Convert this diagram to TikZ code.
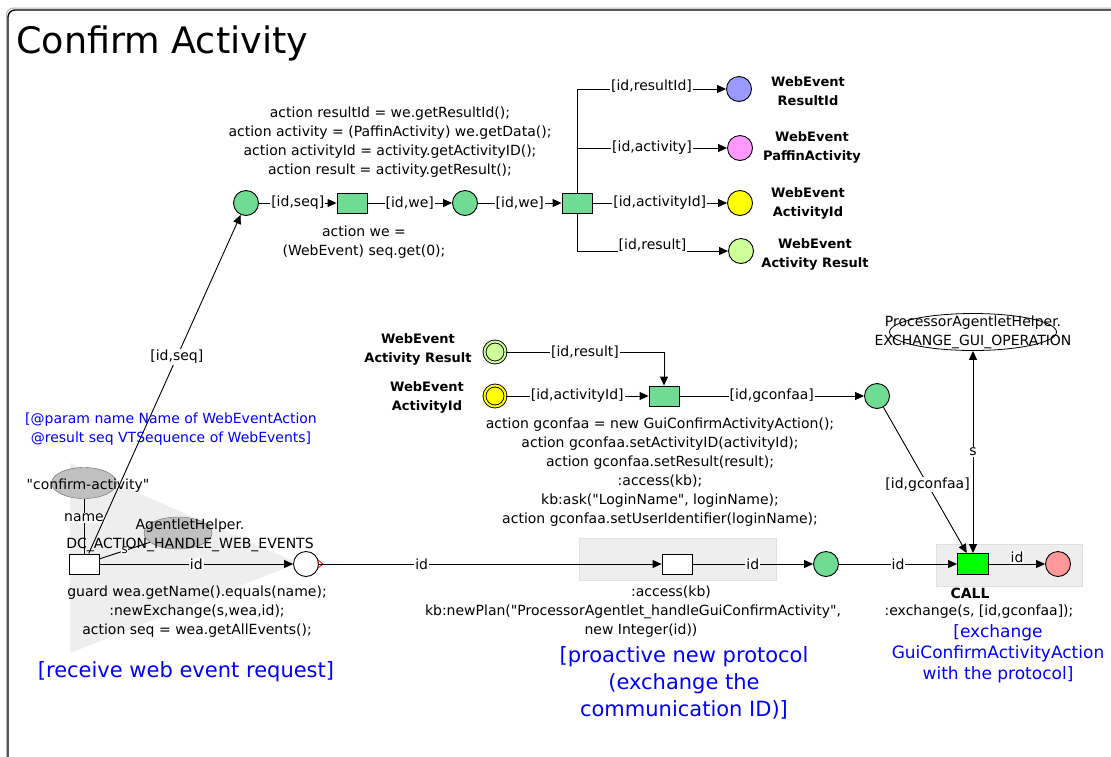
\documentclass[tikz,border=0pt]{standalone}
\usepackage{fontspec}
\setmainfont{DejaVu Sans}
\usetikzlibrary{positioning,arrows.meta,shapes.geometric}

\definecolor{placegreen}{RGB}{112,219,147}
\definecolor{callgreen}{RGB}{0,255,0}
\definecolor{resblue}{RGB}{153,153,255}
\definecolor{actpink}{RGB}{255,153,255}
\definecolor{idyellow}{RGB}{255,255,0}
\definecolor{reslime}{RGB}{204,255,153}
\definecolor{endred}{RGB}{255,153,153}
\definecolor{areagray}{RGB}{238,238,238}
\definecolor{constgray}{RGB}{192,192,192}
\definecolor{noteblue}{RGB}{0,0,255}

\begin{document}
\begin{tikzpicture}[x=1pt, y=-1pt,
    every node/.style={font=\fontsize{14}{19}\selectfont, inner sep=1pt},
    place/.style={circle, draw, line width=0.9pt, minimum size=25, inner sep=0, fill=placegreen},
    vplace/.style={place, minimum size=21, double distance=2pt},
    trans/.style={rectangle, draw, line width=0.9pt, minimum width=30, minimum height=20, inner sep=0, fill=placegreen},
    const/.style={ellipse, draw=black!60, fill=constgray, inner sep=0},
    inscr/.style={align=center},
    arclabel/.style={fill=white, inner sep=1pt},
    wetag/.style={font=\bfseries\fontsize{13}{19}\selectfont, align=center},
    note/.style={text=noteblue, align=center},
    flowarc/.style={line width=0.9pt, -{Triangle[length=9pt,width=8pt]}},
    plainarc/.style={line width=0.9pt},
    sarc/.style={line width=0.9pt, {Triangle[length=9pt,width=8pt]}-{Triangle[length=9pt,width=8pt]}},
    areabox/.style={fill=areagray, draw=black!12}
]
\useasboundingbox (0,0) rectangle (1111,756);

% Frame and title
\draw[black!30, line width=1pt, rounded corners=7] (1125,8) -- (6.5,8) -- (6.5,770);
\draw[line width=1.3pt, rounded corners=7] (1125,10) -- (8,10) -- (8,770);
\node[font=\fontsize{36.5}{40}\selectfont, anchor=base west] (title) at (15,53) {Confirm Activity};

% Shaded areas
\fill[areagray] (70,463) -- (298,563) -- (70,653) -- cycle;
\draw[areabox] (579,538) rectangle (776,580);
\draw[areabox] (936,544) rectangle (1082,586);

% Unpacking the web event
\node[place] (seqin) at (246,203) {};
\node[trans] (getwe) at (352,203) {};
\node[place] (we) at (465,203) {};
\node[trans] (split) at (577,203) {};
\node[place, fill=resblue] (resid) at (739,89) {};
\node[place, fill=actpink] (act) at (740,148) {};
\node[place, fill=idyellow] (actid) at (740,203) {};
\node[place, fill=reslime] (res) at (741,251) {};

\node[inscr] at (390,142) {action resultId = we.getResultId();\\
action activity = (PaffinActivity) we.getData();\\
action activityId = activity.getActivityID();\\
action result = activity.getResult();};
\node[inscr] at (364,242) {action we =\\(WebEvent) seq.get(0);};

\node[wetag] at (808,91) {WebEvent\\ResultId};
\node[wetag] at (812,147) {WebEvent\\PaffinActivity};
\node[wetag] at (808,203) {WebEvent\\ActivityId};
\node[wetag] at (815,254) {WebEvent\\Activity Result};

\draw[flowarc] (seqin) -- node[arclabel] {[id,seq]} (getwe);
\draw[flowarc] (getwe) -- node[arclabel] {[id,we]} (we);
\draw[flowarc] (we) -- node[arclabel] {[id,we]} (split);
\draw[flowarc] (split.north) |- node[arclabel, pos=0.75, yshift=3pt] {[id,resultId]} (resid);
\draw[flowarc] (split.north) |- node[arclabel, pos=0.75] {[id,activity]} (act);
\draw[flowarc] (split) -- node[arclabel] {[id,activityId]} (actid);
\draw[flowarc] (split.south) |- node[arclabel, pos=0.75, yshift=6pt] {[id,result]} (res);

% Building the GUI action
\node[vplace, fill=reslime, double=reslime] (mres) at (495,352) {};
\node[vplace, fill=idyellow, double=idyellow] (mactid) at (495,396) {};
\node[wetag] at (418,349) {WebEvent\\Activity Result};
\node[wetag] at (427,397) {WebEvent\\ActivityId};
\node[trans] (build) at (664,396) {};
\node[place] (gconf) at (877,396) {};
\node[inscr] at (660,472.5) {action gconfaa = new GuiConfirmActivityAction();\\
action gconfaa.setActivityID(activityId);\\
action gconfaa.setResult(result);\\
:access(kb);\\
kb:ask(\textquotedbl LoginName\textquotedbl, loginName);\\
action gconfaa.setUserIdentifier(loginName);};

\draw[flowarc] (mres) -| node[arclabel, pos=0.25] {[id,result]} (build);
\draw[flowarc] (mactid) -- node[arclabel] {[id,activityId]} (build);
\draw[flowarc] (build) -- node[arclabel] {[id,gconfaa]} (gconf);

% Exchange operation
\node[ellipse, draw, line width=0.8pt, fill=white, minimum width=167, minimum height=37, inner sep=0] (exop) at (973,332) {};
\node[inscr] at (exop) {ProcessorAgentletHelper.\\EXCHANGE\_GUI\_OPERATION};

% Receiving the request
\node[const, minimum width=65, minimum height=31] (cname) at (84,483) {};
\node at (88,486) {\textquotedbl confirm-activity\textquotedbl};
\node[const, minimum width=68, minimum height=32] (helper) at (178,533) {};
\node[inscr] at (190,535) {AgentletHelper.\\DC\_ACTION\_HANDLE\_WEB\_EVENTS};
\node[trans, fill=white] (recv) at (84,564) {};
\node[place, fill=white] (idout) at (306,564) {};
\node[trans, fill=white] (newplan) at (677,564) {};
\node[place] (idplan) at (826,564) {};
\node[trans, fill=callgreen, minimum width=31, minimum height=21] (call) at (973,564) {};
\node[place, fill=endred] (done) at (1058,564) {};

\node[inscr] at (197,611.5) {guard wea.getName().equals(name);\\
:newExchange(s,wea,id);\\
action seq = wea.getAllEvents();};
\node[inscr] at (633,611.5) {\hspace*{76pt}:access(kb)\\
kb:newPlan(\textquotedbl ProcessorAgentlet\_handleGuiConfirmActivity\textquotedbl,\\
\hspace*{16pt}new Integer(id))};
\node[font=\bfseries\fontsize{14}{19}\selectfont] at (970,593) {CALL};
\node at (979,612) {:exchange(s, [id,gconfaa]);};

\draw[plainarc] (cname) -- node[arclabel, pos=0.35] {name} (recv);
\draw[plainarc] (recv) -- node[arclabel, font=\fontsize{12}{14}\selectfont, inner sep=0.5pt] {s} (helper);
\draw[flowarc] (recv) -- node[arclabel, pos=0.58] {[id,seq]} (seqin);
\draw[flowarc] (recv) -- node[arclabel] {id} (idout);
\draw[red, line width=0.8pt] ([xshift=-1pt]idout.east) ++(0,-4) -- ++(5,4) -- ++(-5,4);
\draw[flowarc] (idout) -- node[arclabel, pos=0.3] {id} (newplan);
\draw[flowarc] (newplan) -- node[arclabel] {id} (idplan);
\draw[flowarc] (idplan) -- node[arclabel] {id} (call);
\draw[flowarc] (call) -- node[arclabel, anchor=south] {id} (done);
\draw[flowarc] (gconf) -- node[arclabel, pos=0.53] {[id,gconfaa]} (call);
\draw[sarc] (call) -- node[arclabel] {s} (exop);

% Comments
\node[note] at (171,429) {[@param name Name of WebEventAction\\@result seq VTSequence of WebEvents]};
\node[note, font=\fontsize{21}{27.5}\selectfont] at (186,672) {[receive web event request]};
\node[note, font=\fontsize{21}{27}\selectfont] at (684,683) {[proactive new protocol\\(exchange the\\communication ID)]};
\node[note, font=\fontsize{17}{21}\selectfont] at (998,654) {[exchange\\GuiConfirmActivityAction\\with the protocol]};
\end{tikzpicture}
\end{document}
